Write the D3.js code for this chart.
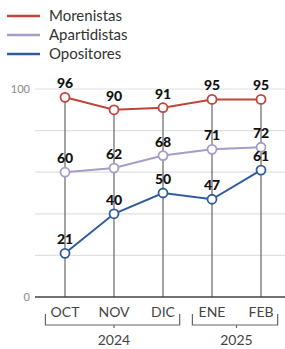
<!DOCTYPE html>
<html><head><meta charset="utf-8">
<script src="https://cdn.jsdelivr.net/npm/d3@7"></script>
<style>body{margin:0;background:#fff}svg{display:block}</style>
</head><body>
<script>
const months = ["OCT","NOV","DIC","ENE","FEB"];
const years = [{label:"2024", from:"OCT", to:"DIC"},{label:"2025", from:"ENE", to:"FEB"}];
const seriesNames = ["Morenistas","Apartidistas","Opositores"];
const morenistas = [96,90,91,95,95];
const apartidistas = [60,62,68,71,72];
const opositores = [21,40,50,47,61];
const yTicks = [0,20,40,60,80,100];
const yTickLabels = ["0","","","","","100"];

const colors = {"Morenistas":"#c0443a","Apartidistas":"#a69bc9","Opositores":"#2f5d9c"};
const series = [
  {name:"Morenistas", values:morenistas},
  {name:"Apartidistas", values:apartidistas},
  {name:"Opositores", values:opositores}
];

const W=285,H=349;
const svg=d3.select("body").append("svg").attr("width",W).attr("height",H);
const font="Lato, 'Open Sans', sans-serif";

const x=d3.scalePoint().domain(months).range([65,261]);
const y=d3.scaleLinear().domain([0,100]).range([297,89]);

// gridlines
svg.append("g").selectAll("line").data(yTicks.filter(d=>d>0)).join("line")
  .attr("x1",35).attr("x2",285).attr("y1",d=>y(d)).attr("y2",d=>y(d))
  .attr("stroke","#e0e0e0").attr("stroke-width",1.2);

// y labels
svg.append("g").selectAll("text").data(yTicks).join("text")
  .attr("x",30).attr("y",d=>y(d)+4).attr("text-anchor","end")
  .attr("font-family",font).attr("font-size",11).attr("fill","#888")
  .text((d,i)=>yTickLabels[i]);

// vertical lines from top point to baseline
const maxVals=months.map((m,i)=>d3.max(series,s=>s.values[i]));
svg.append("g").selectAll("line").data(months).join("line")
  .attr("x1",d=>x(d)).attr("x2",d=>x(d))
  .attr("y1",(d,i)=>y(maxVals[i])).attr("y2",y(0))
  .attr("stroke","#666").attr("stroke-width",1.2);

// baseline
svg.append("line").attr("x1",35).attr("x2",285).attr("y1",y(0)).attr("y2",y(0))
  .attr("stroke","#444").attr("stroke-width",1.5);

// month labels
svg.append("g").selectAll("text").data(months).join("text")
  .attr("x",d=>x(d)).attr("y",317).attr("text-anchor","middle")
  .attr("font-family",font).attr("font-size",14).attr("fill","#444")
  .text(d=>d);

// year brackets
const step=x.step();
years.forEach((yr,i)=>{
  const x0=x(yr.from)-step*0.4, x1=x(yr.to)+step*0.34;
  const by=325;
  svg.append("path").attr("d",`M${x0},${by-11}V${by}H${x1}V${by-11}`)
    .attr("fill","none").attr("stroke","#666").attr("stroke-width",1.2);
  const cx=(x(yr.from)+x(yr.to))/2;
  svg.append("line").attr("x1",cx).attr("x2",cx).attr("y1",by).attr("y2",by+3)
    .attr("stroke","#666").attr("stroke-width",1.2);
  svg.append("text").attr("x",cx).attr("y",345).attr("text-anchor","middle")
    .attr("font-family",font).attr("font-size",14).attr("fill","#444").text(yr.label);
});

// lines
const line=d3.line().x((d,i)=>x(months[i])).y(d=>y(d));
series.forEach(s=>{
  svg.append("path").datum(s.values).attr("d",line)
    .attr("fill","none").attr("stroke",colors[s.name]).attr("stroke-width",2);
});
series.forEach(s=>{
  svg.append("g").selectAll("circle").data(s.values).join("circle")
    .attr("cx",(d,i)=>x(months[i])).attr("cy",d=>y(d)).attr("r",4.5)
    .attr("fill","#fff").attr("stroke",colors[s.name]).attr("stroke-width",1.8);
  svg.append("g").selectAll("text").data(s.values).join("text")
    .attr("x",(d,i)=>x(months[i])).attr("y",d=>y(d)-9).attr("text-anchor","middle")
    .attr("font-family",font).attr("font-weight","900").attr("font-size",14).attr("fill","#111")
    .text(d=>d);
});

// legend
seriesNames.forEach((n,i)=>{
  const ly=16+i*19;
  svg.append("line").attr("x1",7).attr("x2",40).attr("y1",ly).attr("y2",ly)
    .attr("stroke",colors[n]).attr("stroke-width",2.5);
  svg.append("text").attr("x",49).attr("y",ly+5).attr("font-family",font)
    .attr("font-size",15).attr("fill","#333").text(n);
});
</script>
</body></html>
